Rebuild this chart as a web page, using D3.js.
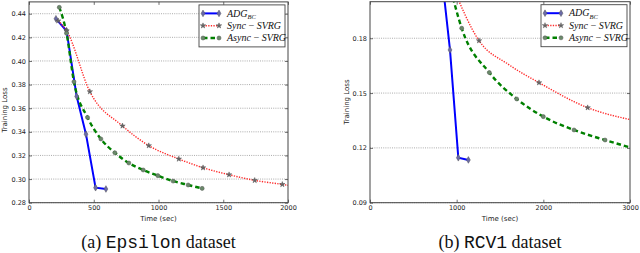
<!DOCTYPE html>
<html>
<head>
<meta charset="utf-8">
<script src="https://cdn.jsdelivr.net/npm/d3@7"></script>
<style>
  body { margin: 0; background: #fff; }
  svg { display: block; }
  .tick text { font-family: "DejaVu Sans", sans-serif; font-size: 6.5px; fill: #222; }
</style>
</head>
<body>
<svg id="chart" width="640" height="253"></svg>
<script>
// Epsilon dataset
var epsTimeADG = [208, 290, 368, 440, 514, 594];
var epsLossADG = [0.4357, 0.4256, 0.370, 0.338, 0.2927, 0.2916];
var epsTimeSync = [225, 290, 470, 722, 925, 1157, 1344, 1545, 1743, 1956, 2120];
var epsLossSync = [0.434, 0.4256, 0.374, 0.345, 0.3283, 0.317, 0.3096, 0.3037, 0.2989, 0.2955, 0.2925];
var epsTimeAsync = [234, 290, 347, 452, 555, 663, 771, 882, 995, 1113, 1229, 1337];
var epsLossAsync = [0.4454, 0.4234, 0.3824, 0.3522, 0.334, 0.3223, 0.3136, 0.3077, 0.3029, 0.2983, 0.295, 0.2921];

// RCV1 dataset
var rcvTimeADG = [850, 923, 1019, 1135];
var rcvLossADG = [0.205, 0.1736, 0.1146, 0.1134];
var rcvTimeSync = [940, 1258, 1600, 1950, 2512, 3060];
var rcvLossSync = [0.21, 0.1787, 0.1656, 0.1557, 0.142, 0.1349];
var rcvSyncMarked = [true, true, false, true, true, true];
var rcvTimeAsync = [915, 1058, 1377, 1692, 2000, 2354, 2712, 3060];
var rcvLossAsync = [0.21, 0.1855, 0.1612, 0.1468, 0.1371, 0.1298, 0.1243, 0.1195];

var epsXTicks = [0, 500, 1000, 1500, 2000];
var epsYTicks = [0.28, 0.30, 0.32, 0.34, 0.36, 0.38, 0.40, 0.42, 0.44];
var rcvXTicks = [0, 1000, 2000, 3000];
var rcvYTicks = [0.09, 0.12, 0.15, 0.18];

var seriesNames = ['ADG', 'Sync\u2009\u2212\u2009SVRG', 'Async\u2009\u2212\u2009SVRG'];
var captions = [['(a) ', 'Epsilon', ' dataset'], ['(b) ', 'RCV1', ' dataset']];

var serifFont = '"Liberation Serif", "Times New Roman", "DejaVu Serif", serif';
var monoFont = '"Liberation Mono", "Courier New", "DejaVu Sans Mono", monospace';

var styles = [
  {color: '#0000ff', width: 2, dash: null, symbol: d3.symbolDiamond, size: 13, fill: '#6a6aa8', curve: d3.curveLinear},
  {color: '#ff2a2a', width: 1.4, dash: '1.3,1.3', symbol: d3.symbolStar, size: 9, fill: '#666', curve: d3.curveMonotoneX},
  {color: '#008000', width: 2.4, dash: '4.5,3', symbol: d3.symbolCircle, size: 13, fill: '#6a8a6a', curve: d3.curveMonotoneX}
];

function zip(xs, ys, marked) {
  return xs.map(function(x, i) { return {t: x, loss: ys[i], mark: marked ? marked[i] : true}; });
}

var svg = d3.select('#chart');
svg.append('rect').attr('width', 640).attr('height', 253).attr('fill', '#fff');

function drawPanel(p, idx) {
  var x = d3.scaleLinear().domain(p.xDomain).range([p.left, p.right]);
  var y = d3.scaleLinear().domain(p.yDomain).range([p.bottom, p.top]);
  var g = svg.append('g');

  // horizontal grid
  g.selectAll('line.grid')
    .data(p.yTicks)
    .enter().append('line')
    .attr('class', 'grid')
    .attr('x1', p.left).attr('x2', p.right)
    .attr('y1', function(d) { return y(d); })
    .attr('y2', function(d) { return y(d); })
    .attr('stroke', '#888')
    .attr('stroke-width', 0.7)
    .attr('stroke-dasharray', '1,1.2');

  var clipId = 'clip' + idx;
  svg.append('clipPath').attr('id', clipId)
    .append('rect')
    .attr('x', p.left).attr('y', p.top)
    .attr('width', p.right - p.left).attr('height', p.bottom - p.top);

  var plot = g.append('g').attr('clip-path', 'url(#' + clipId + ')');

  p.series.forEach(function(s, i) {
    var st = styles[i];
    var line = d3.line()
      .x(function(d) { return x(d.t); })
      .y(function(d) { return y(d.loss); })
      .curve(st.curve);
    plot.append('path')
      .datum(s)
      .attr('d', line)
      .attr('fill', 'none')
      .attr('stroke', st.color)
      .attr('stroke-width', st.width)
      .attr('stroke-dasharray', st.dash);
  });

  p.series.forEach(function(s, i) {
    var st = styles[i];
    plot.selectAll('path.m' + i)
      .data(s.filter(function(d) { return d.mark; }))
      .enter().append('path')
      .attr('class', 'm' + i)
      .attr('d', d3.symbol().type(st.symbol).size(st.size))
      .attr('transform', function(d) { return 'translate(' + x(d.t) + ',' + y(d.loss) + ')'; })
      .attr('fill', st.fill)
      .attr('stroke', '#555')
      .attr('stroke-width', 0.5);
  });

  // axes, ticks pointing inward
  g.append('g')
    .attr('transform', 'translate(0,' + p.bottom + ')')
    .call(d3.axisBottom(x).tickValues(p.xTicks).tickFormat(d3.format('d')).tickSize(-3).tickPadding(3));
  g.append('g')
    .attr('transform', 'translate(0,' + p.top + ')')
    .call(d3.axisTop(x).tickValues(p.xTicks).tickFormat('').tickSize(-3));
  g.append('g')
    .attr('transform', 'translate(' + p.left + ',0)')
    .call(d3.axisLeft(y).tickValues(p.yTicks).tickFormat(d3.format('.2f')).tickSize(-3).tickPadding(3));
  g.append('g')
    .attr('transform', 'translate(' + p.right + ',0)')
    .call(d3.axisRight(y).tickValues(p.yTicks).tickFormat('').tickSize(-3));
  g.selectAll('.domain').remove();
  g.selectAll('.tick line').attr('stroke', '#333').attr('stroke-width', 0.7);

  g.append('rect')
    .attr('x', p.left).attr('y', p.top)
    .attr('width', p.right - p.left).attr('height', p.bottom - p.top)
    .attr('fill', 'none')
    .attr('stroke', '#444')
    .attr('stroke-width', 1);

  g.append('text')
    .attr('x', (p.left + p.right) / 2)
    .attr('y', 220.5)
    .attr('text-anchor', 'middle')
    .style('font-family', 'DejaVu Sans, sans-serif')
    .style('font-size', '7px')
    .attr('fill', '#222')
    .text('Time (sec)');

  g.append('text')
    .attr('transform', 'translate(' + p.ylabelX + ',' + p.ylabelY + ') rotate(-90)')
    .attr('text-anchor', 'middle')
    .style('font-family', 'DejaVu Sans, sans-serif')
    .style('font-size', '7px')
    .attr('fill', '#222')
    .text('Training Loss');

  // legend
  var lw = 86, lh = 42;
  var lx = p.right - 3 - lw, ly = p.top + 3;
  var leg = g.append('g').attr('transform', 'translate(' + lx + ',' + ly + ')');
  leg.append('rect')
    .attr('width', lw).attr('height', lh)
    .attr('fill', '#fff')
    .attr('stroke', '#444')
    .attr('stroke-width', 0.9);
  seriesNames.forEach(function(name, i) {
    var st = styles[i];
    var yy = 8.5 + i * 12.3;
    leg.append('line')
      .attr('x1', 4).attr('x2', 20)
      .attr('y1', yy).attr('y2', yy)
      .attr('stroke', st.color)
      .attr('stroke-width', st.width)
      .attr('stroke-dasharray', st.dash);
    [4, 20].forEach(function(mx) {
      leg.append('path')
        .attr('d', d3.symbol().type(st.symbol).size(st.size)())
        .attr('transform', 'translate(' + mx + ',' + yy + ')')
        .attr('fill', st.fill)
        .attr('stroke', '#555')
        .attr('stroke-width', 0.5);
    });
    var t = leg.append('text')
      .attr('x', 28).attr('y', yy + 3.3)
      .style('font-family', serifFont)
      .style('font-style', 'italic')
      .style('font-size', '10px')
      .attr('fill', '#111');
    t.append('tspan').text(name);
    if (i === 0) {
      t.append('tspan').attr('dy', 2.5).style('font-size', '6.5px').text('BC');
    }
  });

  // caption
  var cap = svg.append('text')
    .attr('x', (p.left + p.right) / 2)
    .attr('y', 247.5)
    .attr('text-anchor', 'middle')
    .style('font-family', serifFont)
    .style('font-size', '18px')
    .attr('fill', '#111');
  cap.append('tspan').style('font-family', serifFont).text(p.caption[0]);
  cap.append('tspan').style('font-family', monoFont).text(p.caption[1]);
  cap.append('tspan').style('font-family', serifFont).text(p.caption[2]);
}

drawPanel({
  left: 29, right: 288, top: 1.9, bottom: 202.7,
  xDomain: [0, 2000], yDomain: [0.28, 0.45],
  xTicks: epsXTicks, yTicks: epsYTicks,
  series: [zip(epsTimeADG, epsLossADG), zip(epsTimeSync, epsLossSync), zip(epsTimeAsync, epsLossAsync)],
  ylabelX: 7, ylabelY: 110, caption: captions[0]
}, 0);

drawPanel({
  left: 370, right: 630, top: 1.7, bottom: 202.7,
  xDomain: [0, 3000], yDomain: [0.09, 0.2],
  xTicks: rcvXTicks, yTicks: rcvYTicks,
  series: [zip(rcvTimeADG, rcvLossADG), zip(rcvTimeSync, rcvLossSync, rcvSyncMarked), zip(rcvTimeAsync, rcvLossAsync)],
  ylabelX: 349, ylabelY: 102, caption: captions[1]
}, 1);
</script>
</body>
</html>
